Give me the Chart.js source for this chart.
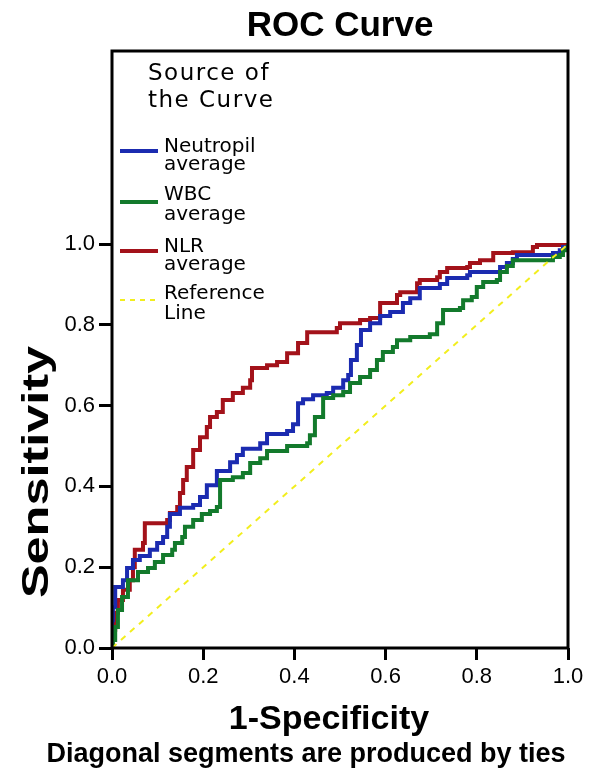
<!DOCTYPE html>
<html>
<head>
<meta charset="utf-8">
<script src="https://cdn.jsdelivr.net/npm/chart.js@4"></script>
<style>
  html, body { margin: 0; padding: 0; background: #fff; }
  #wrap { width: 600px; height: 775px; position: relative; }
</style>
</head>
<body>
<div id="wrap"><canvas id="roc" width="600" height="775"></canvas></div>
<script>
// values (1-specificity, sensitivity)
const neutropilX = [0, 0, 0.002, 0.007, 0.018, 0.024, 0.033, 0.046, 0.061, 0.083, 0.099, 0.112, 0.121, 0.127, 0.149, 0.178, 0.193, 0.208, 0.230, 0.259, 0.274, 0.287, 0.325, 0.340, 0.384, 0.397, 0.408, 0.419, 0.441, 0.471, 0.485, 0.507, 0.518, 0.524, 0.537, 0.546, 0.566, 0.588, 0.610, 0.638, 0.654, 0.675, 0.719, 0.735, 0.779, 0.785, 0.844, 0.851, 0.866, 0.879, 0.888, 0.967, 0.982, 0.989, 1];
const neutropilY = [0, 0.069, 0.101, 0.151, 0.151, 0.168, 0.198, 0.218, 0.228, 0.243, 0.260, 0.275, 0.300, 0.332, 0.347, 0.354, 0.374, 0.403, 0.438, 0.460, 0.478, 0.493, 0.507, 0.530, 0.537, 0.554, 0.606, 0.616, 0.626, 0.631, 0.644, 0.663, 0.676, 0.713, 0.750, 0.787, 0.804, 0.822, 0.832, 0.854, 0.866, 0.891, 0.901, 0.916, 0.923, 0.931, 0.931, 0.943, 0.953, 0.963, 0.973, 0.978, 0.985, 0.993, 1];

const wbcX = [0, 0.002, 0.007, 0.013, 0.022, 0.035, 0.057, 0.079, 0.094, 0.112, 0.132, 0.138, 0.154, 0.160, 0.178, 0.197, 0.215, 0.230, 0.237, 0.265, 0.287, 0.303, 0.325, 0.340, 0.384, 0.428, 0.434, 0.445, 0.463, 0.485, 0.507, 0.522, 0.544, 0.566, 0.581, 0.594, 0.616, 0.625, 0.654, 0.697, 0.713, 0.726, 0.763, 0.770, 0.789, 0.800, 0.814, 0.844, 0.851, 0.866, 0.879, 0.954, 0.967, 0.982, 0.989, 1];
const wbcY = [0, 0.020, 0.052, 0.094, 0.126, 0.168, 0.188, 0.198, 0.213, 0.230, 0.243, 0.260, 0.275, 0.300, 0.317, 0.332, 0.339, 0.349, 0.416, 0.423, 0.433, 0.458, 0.470, 0.488, 0.500, 0.507, 0.527, 0.572, 0.619, 0.626, 0.634, 0.656, 0.671, 0.688, 0.713, 0.733, 0.745, 0.762, 0.770, 0.777, 0.804, 0.837, 0.842, 0.861, 0.869, 0.894, 0.906, 0.911, 0.931, 0.946, 0.960, 0.960, 0.968, 0.973, 0.985, 1];

const nlrX = [0, 0, 0.007, 0.013, 0.024, 0.039, 0.046, 0.050, 0.068, 0.072, 0.121, 0.127, 0.143, 0.149, 0.156, 0.164, 0.178, 0.193, 0.208, 0.215, 0.230, 0.243, 0.265, 0.287, 0.303, 0.307, 0.340, 0.362, 0.384, 0.408, 0.428, 0.493, 0.500, 0.544, 0.566, 0.588, 0.625, 0.632, 0.669, 0.675, 0.713, 0.719, 0.735, 0.779, 0.785, 0.807, 0.836, 0.879, 0.923, 0.932, 1];
const nlrY = [0, 0.045, 0.087, 0.119, 0.144, 0.168, 0.200, 0.243, 0.260, 0.309, 0.317, 0.334, 0.349, 0.384, 0.416, 0.448, 0.490, 0.522, 0.547, 0.572, 0.584, 0.614, 0.631, 0.644, 0.663, 0.693, 0.700, 0.708, 0.730, 0.755, 0.782, 0.792, 0.804, 0.812, 0.817, 0.854, 0.874, 0.881, 0.903, 0.911, 0.918, 0.931, 0.941, 0.943, 0.953, 0.960, 0.978, 0.980, 0.993, 0.998, 1];

const refX = [0, 1];
const refY = [0, 1];

const xTicks = [0, 0.2, 0.4, 0.6, 0.8, 1.0];
const yTicks = [0, 0.2, 0.4, 0.6, 0.8, 1.0];

const seriesNames = ["Neutropil average", "WBC average", "NLR average", "Reference Line"];
const seriesColors = ["#1b2bb0", "#137a2c", "#a3121a", "#f2ee1e"];

function pts(xs, ys) {
  return xs.map((x, i) => ({ x: x, y: ys[i] }));
}

// text around the plot + the box and legend inside it
const decorations = {
  id: "decorations",
  afterDraw(chart) {
    const ctx = chart.ctx;
    const a = chart.chartArea;
    ctx.save();

    ctx.strokeStyle = "#000";
    ctx.lineWidth = 3;
    ctx.strokeRect(a.left, a.top, a.right - a.left, a.bottom - a.top);

    ctx.fillStyle = "#000";
    ctx.textAlign = "center";
    ctx.textBaseline = "alphabetic";
    ctx.font = "bold 35px 'Liberation Sans', Arial, sans-serif";
    ctx.fillText("ROC Curve", 340, 36);

    ctx.font = "bold 34px 'Liberation Sans', Arial, sans-serif";
    ctx.fillText("1-Specificity", 329, 729);
    ctx.font = "bold 27px 'Liberation Sans', Arial, sans-serif";
    ctx.fillText("Diagonal segments are produced by ties", 306, 762);

    ctx.save();
    ctx.translate(48, 472);
    ctx.rotate(-Math.PI / 2);
    ctx.scale(1.4, 1);
    ctx.font = "bold 36px 'Liberation Sans', Arial, sans-serif";
    ctx.fillText("Sensitivity", 0, 0);
    ctx.restore();

    // legend
    ctx.textAlign = "left";
    ctx.font = "23px 'DejaVu Sans', sans-serif";
    ctx.letterSpacing = "1.5px";
    ctx.fillText("Source of", 148, 80);
    ctx.fillText("the Curve", 148, 107);
    ctx.letterSpacing = "0px";

    const rows = [[151, 152, 170], [202, 200, 220], [251, 252, 270], [300, 299, 319]];
    ctx.font = "20px 'DejaVu Sans', sans-serif";
    rows.forEach((r, i) => {
      ctx.beginPath();
      ctx.strokeStyle = seriesColors[i];
      ctx.lineWidth = i === 3 ? 2 : 4;
      ctx.setLineDash(i === 3 ? [5, 5] : []);
      ctx.moveTo(120, r[0]);
      ctx.lineTo(158, r[0]);
      ctx.stroke();
      const words = seriesNames[i].split(" ");
      ctx.fillText(words[0], 164, r[1]);
      ctx.fillText(words[1], 164, r[2]);
    });
    ctx.restore();
  }
};

const datasets = [
  { label: seriesNames[3], data: pts(refX, refY), borderColor: seriesColors[3], borderWidth: 2, borderDash: [6, 6] },
  { label: seriesNames[1], data: pts(wbcX, wbcY), borderColor: seriesColors[1], borderWidth: 4, stepped: "before" },
  { label: seriesNames[0], data: pts(neutropilX, neutropilY), borderColor: seriesColors[0], borderWidth: 4, stepped: "before" },
  { label: seriesNames[2], data: pts(nlrX, nlrY), borderColor: seriesColors[2], borderWidth: 4, stepped: "before" }
];

new Chart(document.getElementById("roc"), {
  type: "line",
  data: { datasets: datasets },
  options: {
    responsive: false,
    animation: false,
    elements: { point: { radius: 0 }, line: { tension: 0, borderJoinStyle: "miter" } },
    layout: { padding: { top: 51, right: 32, left: 0, bottom: 0 } },
    plugins: { legend: { display: false }, tooltip: { enabled: false } },
    scales: {
      x: {
        type: "linear",
        min: 0,
        max: 1,
        afterFit(scale) { scale.height = 127; },
        afterBuildTicks(scale) { scale.ticks = xTicks.map(v => ({ value: v })); },
        grid: { drawOnChartArea: false, drawTicks: true, tickLength: 12, tickWidth: 3, color: "#000" },
        border: { display: false },
        ticks: {
          padding: 4,
          color: "#000",
          maxRotation: 0,
          font: { family: "'Liberation Sans', Arial, sans-serif", size: 22 },
          callback: v => v.toFixed(1)
        }
      },
      y: {
        type: "linear",
        min: 0,
        max: 1.478,
        afterFit(scale) { scale.width = 112; },
        afterBuildTicks(scale) { scale.ticks = yTicks.map(v => ({ value: v })); },
        grid: { drawOnChartArea: false, drawTicks: true, tickLength: 13, tickWidth: 3, color: "#000" },
        border: { display: false },
        ticks: {
          padding: 4,
          color: "#000",
          font: { family: "'Liberation Sans', Arial, sans-serif", size: 22 },
          callback: v => v.toFixed(1)
        }
      }
    }
  },
  plugins: [decorations]
});
</script>
</body>
</html>
